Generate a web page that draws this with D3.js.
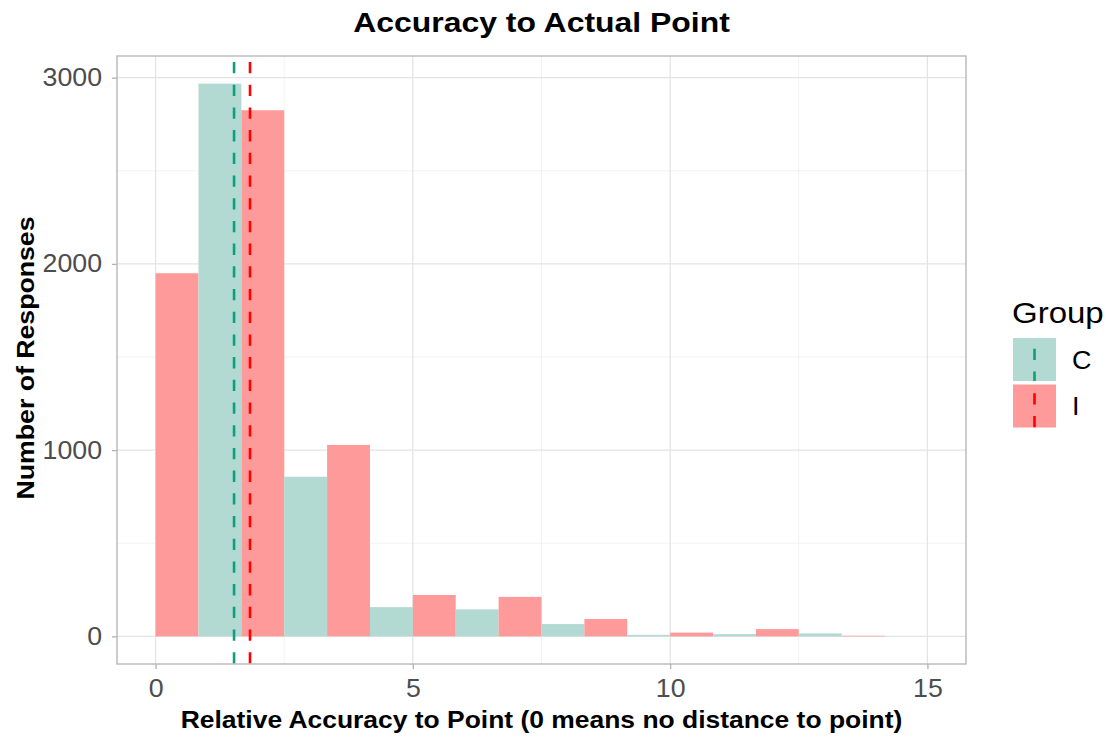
<!DOCTYPE html>
<html><head><meta charset="utf-8">
<script src="https://cdn.jsdelivr.net/npm/d3@7"></script>
<style>body{margin:0;background:#fff}svg{display:block;font-family:"Liberation Sans",Arial,sans-serif}</style>
</head><body><svg id="c" width="1106" height="738"></svg>
<script>
// data
const groups = ["C", "I"];
const binLower = [0, 1.6667, 3.3333, 5, 6.6667, 8.3333, 10, 11.6667, 13.3333];
const binWidth = 1.6667;
const countsC = [2968, 857, 157, 145, 66, 8, 12, 16, 0];
const countsI = [1950, 2825, 1028, 222, 212, 93, 20, 39, 3];
const means = { C: 1.525, I: 1.835 };
const xTicks = [0, 5, 10, 15];
const yTicks = [0, 1000, 2000, 3000];

const fills = { C: "#B2DAD2", I: "#FF9A9A" };
const lines = { C: "#0F9E7E", I: "#FF0000" };

const svg = d3.select("#c");
const L = 117, R = 966, T = 56, B = 664;
const xMax = 15, yMax = d3.max(countsC.concat(countsI));
const x = d3.scaleLinear().domain([-0.05 * xMax, xMax * 1.05]).range([L, R]);
const y = d3.scaleLinear().domain([-0.05 * yMax, yMax * 1.05]).range([B, T]);

// grid
const g = svg.append("g");
const minorX = [2.5, 7.5, 12.5], minorY = [500, 1500, 2500];
g.selectAll(".mx").data(minorX).join("line").attr("x1", d => x(d)).attr("x2", d => x(d)).attr("y1", T).attr("y2", B).attr("stroke", "#EFEFEF").attr("stroke-width", 0.8);
g.selectAll(".my").data(minorY).join("line").attr("y1", d => y(d)).attr("y2", d => y(d)).attr("x1", L).attr("x2", R).attr("stroke", "#EFEFEF").attr("stroke-width", 0.8);
g.selectAll(".Mx").data(xTicks).join("line").attr("x1", d => x(d)).attr("x2", d => x(d)).attr("y1", T).attr("y2", B).attr("stroke", "#E3E3E3").attr("stroke-width", 1.2);
g.selectAll(".My").data(yTicks).join("line").attr("y1", d => y(d)).attr("y2", d => y(d)).attr("x1", L).attr("x2", R).attr("stroke", "#E3E3E3").attr("stroke-width", 1.2);

// bars (dodged: I left, C right)
const half = binWidth / 2;
const bars = [];
binLower.forEach((b, i) => {
  bars.push({ g: "I", x0: b, x1: b + half, v: countsI[i] });
  bars.push({ g: "C", x0: b + half, x1: b + binWidth, v: countsC[i] });
});
svg.append("g").selectAll("rect").data(bars).join("rect")
  .attr("x", d => x(d.x0)).attr("width", d => x(d.x1) - x(d.x0))
  .attr("y", d => y(d.v)).attr("height", d => y(0) - y(d.v))
  .attr("fill", d => fills[d.g]);

// mean lines
svg.append("g").selectAll("line").data(groups).join("line")
  .attr("x1", d => x(means[d])).attr("x2", d => x(means[d]))
  .attr("y1", T).attr("y2", B)
  .attr("stroke", d => lines[d]).attr("stroke-width", 2.6)
  .attr("stroke-dasharray", "11.3,11.4").attr("stroke-dashoffset", 16.7);

// panel border
svg.append("rect").attr("x", L).attr("y", T).attr("width", R - L).attr("height", B - T)
  .attr("fill", "none").attr("stroke", "#B3B3B3").attr("stroke-width", 1.3);

// axes
const xa = svg.append("g").attr("transform", `translate(0,${B})`)
  .call(d3.axisBottom(x).tickValues(xTicks).tickSize(5).tickPadding(10));
const ya = svg.append("g").attr("transform", `translate(${L},0)`)
  .call(d3.axisLeft(y).tickValues(yTicks).tickSize(5).tickPadding(9).tickFormat(d3.format("d")));
[xa, ya].forEach(a => {
  a.select(".domain").remove();
  a.selectAll(".tick line").attr("stroke", "#B3B3B3").attr("stroke-width", 1.3);
  a.selectAll(".tick text").attr("fill", "#4D4D4D").attr("font-size", 25)
    .attr("font-family", "Liberation Sans, Arial, sans-serif").attr("transform", "scale(1.07,1)");
});

// titles (glyphs slightly wider than Arial in the reference)
function wideText(cx, cy, rot, sx, size, weight, txt) {
  svg.append("text").attr("transform", `translate(${cx},${cy}) rotate(${rot}) scale(${sx},1)`)
    .attr("text-anchor", "middle").attr("font-size", size).attr("font-weight", weight).attr("fill", "#000").text(txt);
}
wideText((L + R) / 2, 31.7, 0, 1.14, 28, "bold", "Accuracy to Actual Point");
wideText((L + R) / 2, 728, 0, 1.15, 23, "bold", "Relative Accuracy to Point (0 means no distance to point)");
wideText(34, (T + B) / 2 - 2, -90, 1.16, 23, "bold", "Number of Responses");

// legend
const lg = svg.append("g");
lg.append("text").attr("transform", "translate(1012,323) scale(1.1,1)").attr("font-size", 30).attr("fill", "#000").text("Group");
const keyY = { C: 338, I: 384.5 };
const keyOff = { C: 12, I: 14 };
groups.forEach(gr => {
  lg.append("rect").attr("x", 1013).attr("y", keyY[gr]).attr("width", 43).attr("height", 43).attr("fill", fills[gr]);
  lg.append("line").attr("x1", 1034.5).attr("x2", 1034.5).attr("y1", keyY[gr]).attr("y2", keyY[gr] + 43)
    .attr("stroke", lines[gr]).attr("stroke-width", 2.6).attr("stroke-dasharray", "11.3,11.4").attr("stroke-dashoffset", keyOff[gr]);
  lg.append("text").attr("transform", `translate(1072,${keyY[gr] + 30.5}) scale(1.08,1)`).attr("font-size", 25).attr("fill", "#000").text(gr);
});
</script></body></html>
